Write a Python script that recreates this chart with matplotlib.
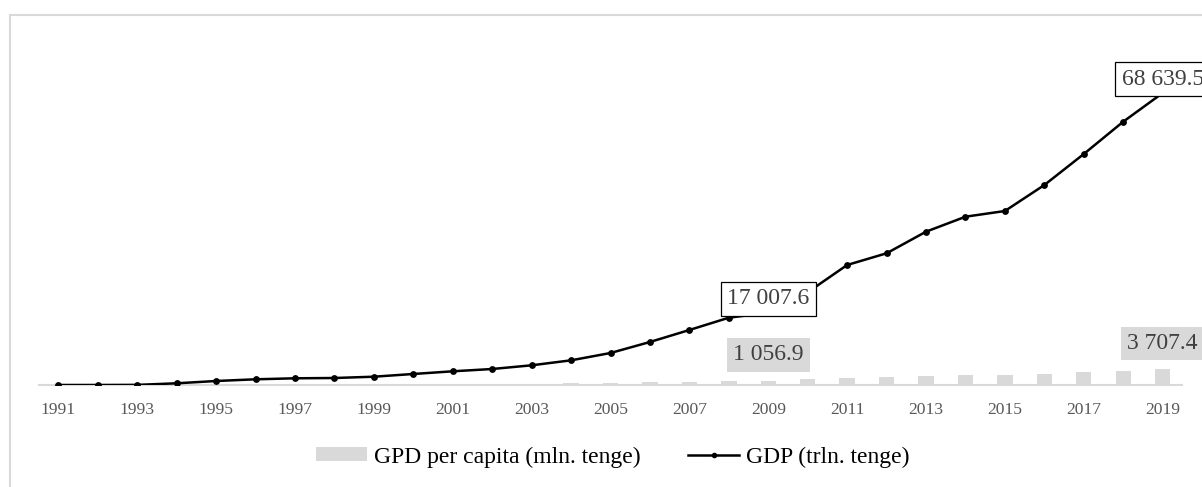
import matplotlib
matplotlib.use("Agg")
import matplotlib.pyplot as plt
from matplotlib.lines import Line2D
from matplotlib.patches import Patch
import numpy as np

years = list(range(1991, 2020))
gdp = [0.3, 2.8, 29.4, 400, 940, 1340, 1575, 1645, 1950, 2590, 3220, 3760, 4630,
       5800, 7520, 10110, 12930, 15820, 17007.6, 21800, 28210, 30960, 36040, 39560,
       40900, 47010, 54300, 61900, 68639.5]
gdp_pc = [0.0, 0.4, 1.8, 26.6, 63.9, 89.9, 107.2, 111.7, 135.1, 174.9, 218.5, 254.8,
          310, 390, 500, 660, 820, 1020, 1056.9, 1300, 1620, 1770, 2180, 2250, 2250,
          2590, 3070, 3390, 3707.4]
line_label_years = [2009, 2019]
bar_label_years = [2009, 2019]
tick_years = [y for y in years if (y - 1991) % 2 == 0]

W, H = 1202, 487
fig = plt.figure(figsize=(W / 100, H / 100), dpi=100)
plt.rcParams['font.family'] = ['Liberation Serif', 'DejaVu Serif']

# plot area in pixel coordinates
left, right = 38.6, 1182.4
base_y, top_y = 385.0, 40.0
ax = fig.add_axes([left / W, (H - base_y) / H, (right - left) / W, (base_y - top_y) / H])

x = np.arange(len(years))
ymax = 68639.5 * (base_y - top_y) / (base_y - 93.0)

ax.bar(x, gdp_pc, width=0.39, color='#d9d9d9', zorder=1)
ax.plot(x, gdp, color='black', lw=1.8, marker='o', markersize=3.9, zorder=3)

ax.set_xlim(-0.5, len(years) - 0.5)
ax.set_ylim(0, ymax)

for s in ['top', 'right', 'left']:
    ax.spines[s].set_visible(False)
ax.spines['bottom'].set_color('#d9d9d9')
ax.spines['bottom'].set_linewidth(1.5)
ax.spines['bottom'].set_zorder(0.5)
ax.set_yticks([])
ax.set_xticks([years.index(y) for y in tick_years])
ax.set_xticklabels([str(y) for y in tick_years])
ax.tick_params(axis='x', length=0, pad=12.5, labelsize=12.6, labelcolor='#595959')


def fmt(v):
    return f"{v:,.1f}".replace(",", " ")


for yr in line_label_years:
    i = years.index(yr)
    ax.annotate(fmt(gdp[i]), (i, gdp[i]), xytext=(0, 10), textcoords='offset points',
                ha='center', va='center', fontsize=17, color='#404040', zorder=5,
                annotation_clip=False,
                bbox=dict(boxstyle='square,pad=0.27', fc='white', ec='black', lw=0.9))

for yr in bar_label_years:
    i = years.index(yr)
    ax.annotate(fmt(gdp_pc[i]), (i, gdp_pc[i]), xytext=(0, 18.5), textcoords='offset points',
                ha='center', va='center', fontsize=17, color='#404040', zorder=5,
                annotation_clip=False,
                bbox=dict(boxstyle='square,pad=0.27', fc='#d9d9d9', ec='none'))

handles = [Patch(facecolor='#d9d9d9', edgecolor='none'),
           Line2D([0], [0], color='black', lw=1.8, marker='o', markersize=3)]
labels = ['GPD per capita (mln. tenge)', 'GDP (trln. tenge)']
fig.legend(handles, labels, loc='center', bbox_to_anchor=(613 / W, 30 / H), ncol=2,
           frameon=False, fontsize=17, handlelength=2.15, handleheight=0.5,
           handletextpad=0.3, columnspacing=2.0, borderpad=0, labelcolor='black')

# chart-area border (top and left visible, rest runs off the image)
fig.add_artist(Line2D([10 / W, 1.0], [(H - 15) / H, (H - 15) / H], color='#d9d9d9',
                      lw=1.5, transform=fig.transFigure))
fig.add_artist(Line2D([10 / W, 10 / W], [0.0, (H - 15) / H], color='#d9d9d9',
                      lw=1.5, transform=fig.transFigure))

fig.savefig('out.png', dpi=100)
